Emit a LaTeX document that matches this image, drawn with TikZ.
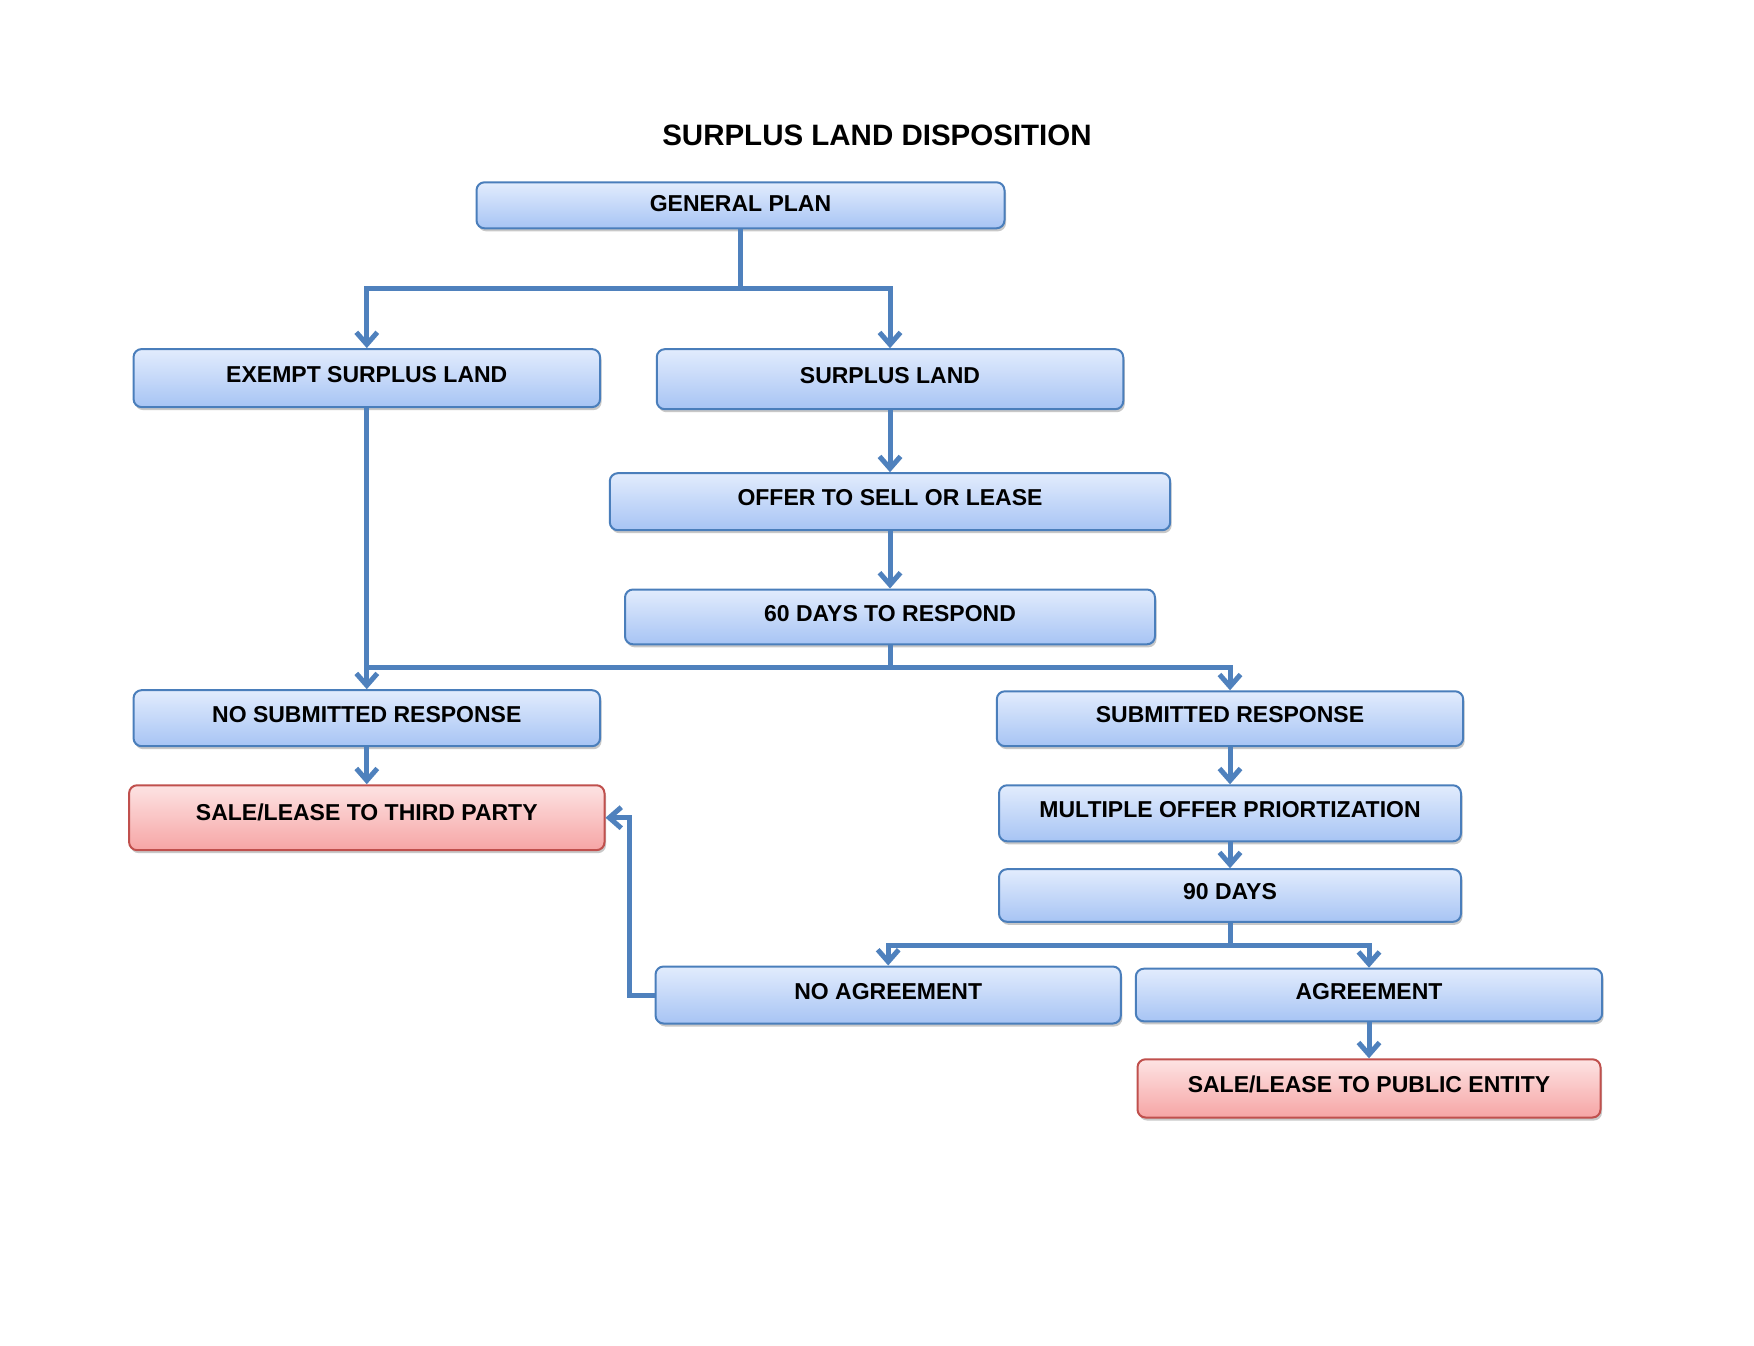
\documentclass[tikz,border=0pt]{standalone}
\usepackage{fontspec}
\setmainfont{Liberation Sans}
\usetikzlibrary{arrows.meta,shadows,calc}
\definecolor{lineblue}{HTML}{4F81BD}
\definecolor{boxborder}{HTML}{4A7EBB}
\definecolor{bluetop}{HTML}{E2ECFD}
\definecolor{bluebot}{HTML}{A7C4F4}
\definecolor{redtop}{HTML}{FDE3E3}
\definecolor{redbot}{HTML}{F6A5A5}
\definecolor{redborder}{HTML}{C0504D}
\tikzset{
  box/.style={rounded corners=8pt, line width=2pt, top color=bluetop, bottom color=bluebot,
    draw=boxborder, font=\fontsize{23}{27}\selectfont\bfseries, text height=16.5pt,
    text depth=8pt, inner sep=0pt,
    drop shadow={shadow xshift=1.5pt, shadow yshift=-3pt, opacity=0.3, fill=black!70}},
  redbox/.style={box, top color=redtop, bottom color=redbot, draw=redborder},
  conn/.style={draw=lineblue, line width=5pt},
  arr/.style={conn, -{Straight Barb[length=12pt,width=21pt]}},
}
\begin{document}
\begin{tikzpicture}[x=1pt,y=-1pt]
\fill[white] (0,0) rectangle (1754,1346);
\useasboundingbox (0,0) rectangle (1754,1346);

\node[font=\fontsize{29.5}{34}\selectfont\bfseries] (title) at (877,135.4) {SURPLUS LAND DISPOSITION};

\node[box, minimum width=528pt, minimum height=46pt, text depth=5pt] (gp) at (740.5,205.3) {GENERAL PLAN};
\node[box, minimum width=466.5pt, minimum height=58pt] (esl) at (366.8,378.1) {EXEMPT SURPLUS LAND};
\node[box, minimum width=466.5pt, minimum height=60pt] (sl) at (890,379.2) {SURPLUS LAND};
\node[box, minimum width=560.4pt, minimum height=57pt] (off) at (890,501.7) {OFFER TO SELL OR LEASE};
\node[box, minimum width=530pt, minimum height=54.8pt] (d60) at (890,616.9) {60 DAYS TO RESPOND};
\node[box, minimum width=466.5pt, minimum height=56pt] (nsr) at (366.8,718.2) {NO SUBMITTED RESPONSE};
\node[box, minimum width=466.4pt, minimum height=54.8pt] (sr) at (1230,718.7) {SUBMITTED RESPONSE};
\node[redbox, minimum width=475.4pt, minimum height=64.9pt, text depth=10pt] (st) at (366.8,817.7) {SALE/LEASE TO THIRD PARTY};
\node[box, minimum width=462pt, minimum height=56pt] (mop) at (1230,813.3) {MULTIPLE OFFER PRIORTIZATION};
\node[box, minimum width=462pt, minimum height=52.6pt] (d90) at (1230,895.5) {90 DAYS};
\node[box, minimum width=465.3pt, minimum height=57pt] (na) at (888.2,995) {NO AGREEMENT};
\node[box, minimum width=466.4pt, minimum height=52.6pt] (ag) at (1369,995) {AGREEMENT};
\node[redbox, minimum width=463pt, minimum height=58.2pt] (pub) at (1369,1088.4) {SALE/LEASE TO PUBLIC ENTITY};

\coordinate (j1) at (740.5,288.6);
\coordinate (j2) at (890,667.8);
\coordinate (j3) at (1230,945.2);
\coordinate (k) at (629.8,995);

\draw[conn] (gp.south) -- (j1);
\draw[arr] (j1) -| (esl.north);
\draw[arr] (j1) -| (sl.north);
\draw[arr] (sl.south) -- (off.north);
\draw[arr] (off.south) -- (d60.north);
\draw[arr] (esl.south) -- (nsr.north);
\draw[conn] (d60.south) -- (j2);
\draw[conn] (j2) -- (j2 -| esl.south);
\draw[arr] (j2) -| (sr.north);
\draw[arr] (nsr.south) -- (st.north);
\draw[arr] (sr.south) -- (mop.north);
\draw[arr] (mop.south) -- (d90.north);
\draw[conn] (d90.south) -- (j3);
\draw[arr] (j3) -| (na.north);
\draw[arr] (j3) -| (ag.north);
\draw[arr] (ag.south) -- (pub.north);
\draw[arr] (na.west) -- (k) |- (st.east);
\end{tikzpicture}
\end{document}
